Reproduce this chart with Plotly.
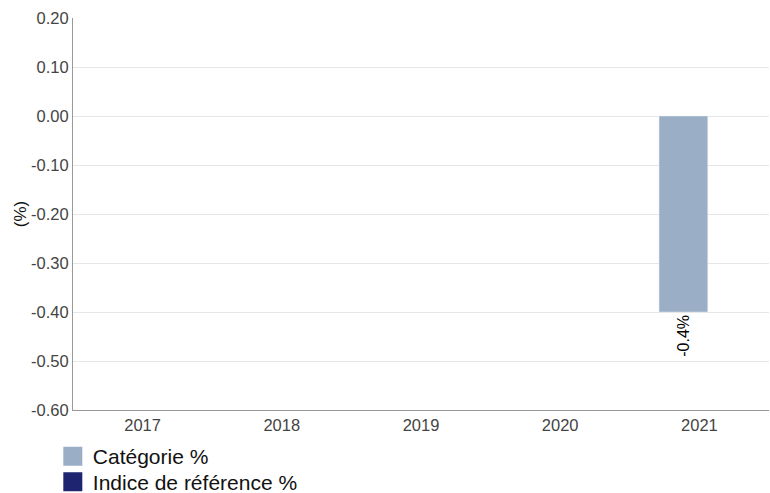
import plotly.graph_objects as go

years = ["2017", "2018", "2019", "2020", "2021"]
categorie = [None, None, None, None, -0.4]
indice = [None, None, None, None, None]
labels = ["", "", "", "", "-0.4%"]
series_names = ["Catégorie %", "Indice de référence %"]
series_colors = ["#9aafc5", "#1f2470"]
y_tick_values = [-0.6, -0.5, -0.4, -0.3, -0.2, -0.1, 0.0, 0.1, 0.2]
y_tick_labels = ["-0.60", "-0.50", "-0.40", "-0.30", "-0.20", "-0.10", "0.00", "0.10", "0.20"]

FONT = "Liberation Sans, Arial"

fig = go.Figure()
fig.add_trace(go.Bar(
    x=years, y=categorie, name=series_names[0],
    marker=dict(color=series_colors[0]),
    text=labels, textposition="outside", textangle=-90,
    textfont=dict(color="#000000", size=16, family=FONT),
    width=0.35, offset=-0.29, cliponaxis=False, showlegend=False,
))
fig.add_trace(go.Bar(
    x=years, y=indice, name=series_names[1],
    marker=dict(color=series_colors[1]),
    width=0.35, offset=0.06, showlegend=False,
))
# legend proxies (larger square swatches), one legend each
for i, (nm, col) in enumerate(zip(series_names, series_colors)):
    fig.add_trace(go.Scatter(
        x=[None], y=[None], mode="markers", name=nm,
        marker=dict(symbol="square", size=16, color=col,
                    line=dict(color=col, width=3)),
        showlegend=True, legend="legend" if i == 0 else "legend2",
    ))

leg_common = dict(
    orientation="v", xanchor="left", yanchor="middle",
    font=dict(size=21, color="#111111"), itemsizing="trace",
    bgcolor="rgba(0,0,0,0)",
)

fig.update_layout(
    width=770, height=493,
    margin=dict(l=73, r=1, t=18, b=83, autoexpand=False),
    paper_bgcolor="white", plot_bgcolor="white",
    font=dict(family=FONT, color="#444444", size=16),
    showlegend=True,
    legend=dict(x=-0.029, y=-0.1186, **leg_common),
    legend2=dict(x=-0.029, y=-0.1837, **leg_common),
    barmode="overlay",
)
fig.update_xaxes(
    type="category", showgrid=False,
    showline=True, linecolor="#999999", linewidth=1,
    ticks="", tickfont=dict(size=16.5, color="#444444"),
)
fig.update_yaxes(
    range=[-0.6, 0.2], tickmode="array",
    tickvals=y_tick_values, ticktext=y_tick_labels,
    showgrid=True, gridcolor="#e6e6e6", gridwidth=1,
    zeroline=False,
    showline=True, linecolor="#999999", linewidth=1,
    ticks="", tickfont=dict(size=16.5, color="#444444"),
    title=dict(text="(%)", font=dict(size=17, color="#111111"), standoff=0),
)

fig.write_html(
    "out.html",
    config={"displayModeBar": False},
    post_script="document.body.style.margin='0';document.body.style.overflow='hidden';",
)
